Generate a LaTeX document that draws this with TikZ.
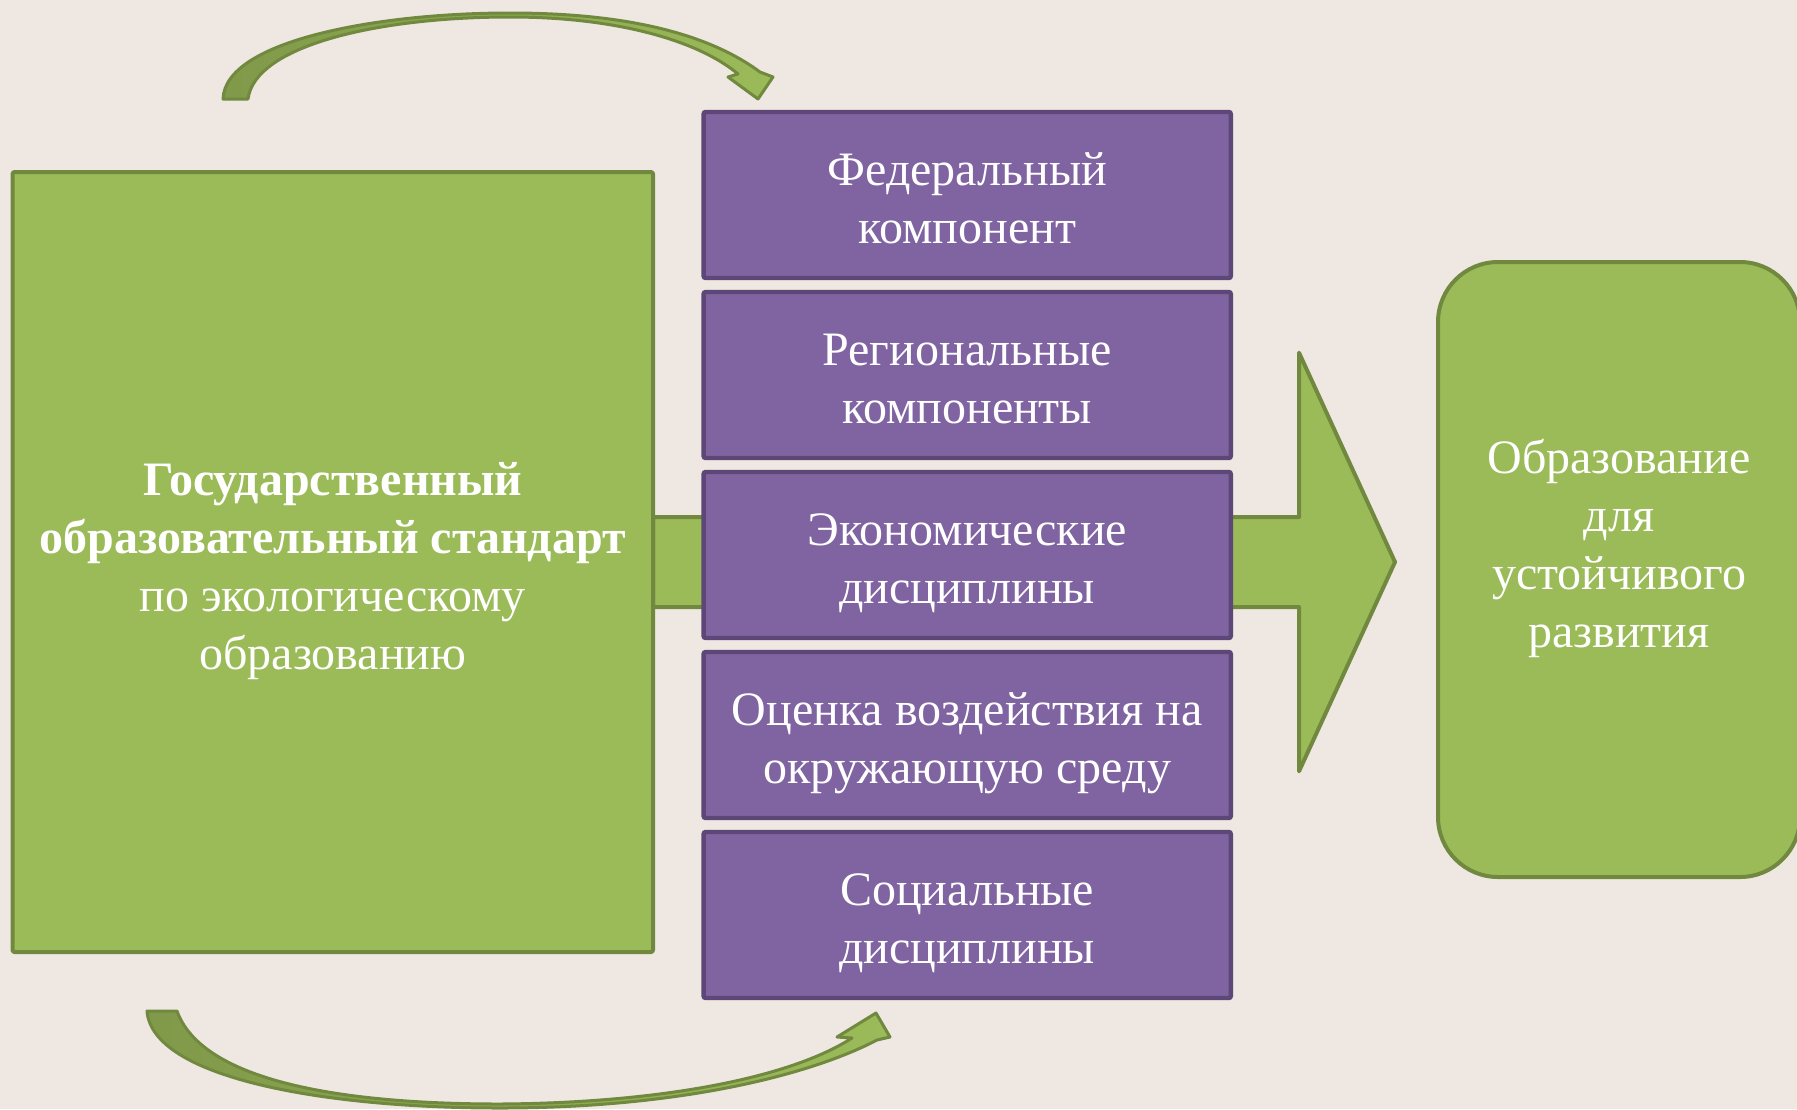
\documentclass[tikz,border=0pt]{standalone}
\usepackage{fontspec}
\setmainfont{Liberation Serif}
\definecolor{bg}{HTML}{EFE7E2}
\definecolor{gfill}{HTML}{9BBB59}
\definecolor{gline}{HTML}{71893F}
\definecolor{gdark}{HTML}{80994A}
\definecolor{pfill}{HTML}{8064A2}
\definecolor{pline}{HTML}{5C4776}
\begin{document}
\begin{tikzpicture}[x=0.5pt,y=-0.5pt,
  greenbox/.style={draw=gline,fill=gfill,line width=2pt,inner sep=0pt,outer sep=0pt,line join=round},
  purplebox/.style={draw=pline,fill=pfill,line width=2.2pt,minimum width=263.6pt,minimum height=83pt,inner sep=0pt,outer sep=0pt,rounded corners=1pt},
  whitetext/.style={text=white,align=center,font=\fontsize{24}{29}\selectfont,inner sep=0pt},
  curvearrow/.style={draw=gline,line width=1.5pt,line join=round,left color=gdark,right color=gfill}]
\useasboundingbox (0,0) rectangle (1797,1109);
\fill[bg] (0,0) rectangle (1797,1109);
\clip (0,0) rectangle (1797,1109);
% big block arrow
\draw[greenbox] (653,517) -- (1299,517) -- (1299,352.7) -- (1395,562) -- (1299,771.3) -- (1299,607) -- (653,607) -- cycle;
% left box
\node[greenbox,rounded corners=1pt,minimum width=320.25pt,minimum height=390pt] (gos) at (332.75,562) {};
\node[whitetext] (gostext) at (332.75,571)
  {\textbf{Государственный}\\\textbf{образовательный стандарт}\\по экологическому\\образованию};
% purple boxes
\foreach \n/\y/\t in {p1/195/{Федеральный\\компонент},p2/375/{Региональные\\компоненты},p3/555/{Экономические\\дисциплины},p4/735/{Оценка воздействия на\\окружающую среду},p5/915/{Социальные\\дисциплины}}{
  \node[purplebox] (\n) at (967.2,\y) {};
  \node[whitetext] (\n text) at (967.2,\y+8.5) {\t\vphantom{ду}};
}
% right box
\node[greenbox,minimum width=181pt,minimum height=307.5pt,rounded corners=30pt] (rbox) at (1619,569.5) {};
\node[whitetext] (rtext) at (1619,548) {Образование\\для\\устойчивого\\развития};
% curved arrows
\path[curvearrow] (223,99) .. controls (225,40) and (380,13) .. (510,13)
  .. controls (630,13) and (710,35) .. (760,72) -- (773,77) -- (758,99) -- (728,77) -- (738,74)
  .. controls (700,42) and (620,17) .. (510,17)
  .. controls (380,17) and (255,45) .. (248,99) -- cycle;
\path[curvearrow] (147,1011) .. controls (152,1077) and (320,1108) .. (500,1108)
  .. controls (680,1108) and (810,1075) .. (877,1040) -- (890,1037) -- (876,1013) -- (837,1037) -- (852,1038)
  .. controls (790,1078) and (660,1103) .. (500,1104)
  .. controls (320,1104) and (200,1075) .. (177,1011) -- cycle;
\end{tikzpicture}
\end{document}
